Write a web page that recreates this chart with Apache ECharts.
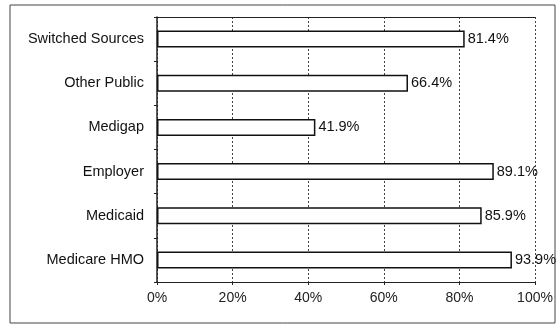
<!DOCTYPE html>
<html><head><meta charset="utf-8">
<script src="https://cdn.jsdelivr.net/npm/echarts@6/dist/echarts.min.js"></script>
<style>html,body{margin:0;padding:0;background:#fff}#c{width:558px;height:328px}</style>
</head><body><div id="c"></div>
<script>
const categories = ["Medicare HMO", "Medicaid", "Employer", "Medigap", "Other Public", "Switched Sources"];
const values = [93.9, 85.9, 89.1, 41.9, 66.4, 81.4];
const xTicks = [0, 20, 40, 60, 80, 100];

const chart = echarts.init(document.getElementById('c'), null, {renderer: 'canvas'});
const font = 'Liberation Sans, Arial, sans-serif';
chart.setOption({
  animation: false,
  backgroundColor: '#fff',
  graphic: [{type: 'rect', shape: {x: 10, y: 5, width: 545, height: 318}, style: {fill: 'none', stroke: '#444', lineWidth: 1}}],
  grid: {left: 157, right: 23, top: 17, bottom: 46, containLabel: false},
  xAxis: [{
    type: 'value', min: xTicks[0], max: xTicks[xTicks.length - 1], interval: 20,
    axisLine: {show: true, lineStyle: {color: '#222', width: 1}},
    axisTick: {show: true, length: 3, lineStyle: {color: '#222'}},
    axisLabel: {formatter: v => v + '%', color: '#222', fontFamily: font, fontSize: 14, margin: 9},
    splitLine: {show: true, lineStyle: {color: '#444', width: 1, type: [2, 2]}}
  }, {
    type: 'value', position: 'top', min: 0, max: 100, interval: 20,
    axisLine: {show: true, lineStyle: {color: '#222', width: 1}},
    axisTick: {show: false}, axisLabel: {show: false}, splitLine: {show: false}
  }],
  yAxis: {
    type: 'category', data: categories,
    axisLine: {show: true, lineStyle: {color: '#222', width: 1.5}},
    axisTick: {show: true, length: 3, inside: false, lineStyle: {color: '#222'}},
    axisLabel: {color: '#111', fontFamily: font, fontSize: 14.5, margin: 13}
  },
  series: [{
    type: 'bar', data: values, barWidth: 17,
    itemStyle: {color: '#fff', borderColor: '#111', borderWidth: 1.5},
    label: {show: true, position: 'right', distance: 3, formatter: p => p.value.toFixed(1) + '%', color: '#111', fontFamily: font, fontSize: 14.5}
  }]
});
</script></body></html>
